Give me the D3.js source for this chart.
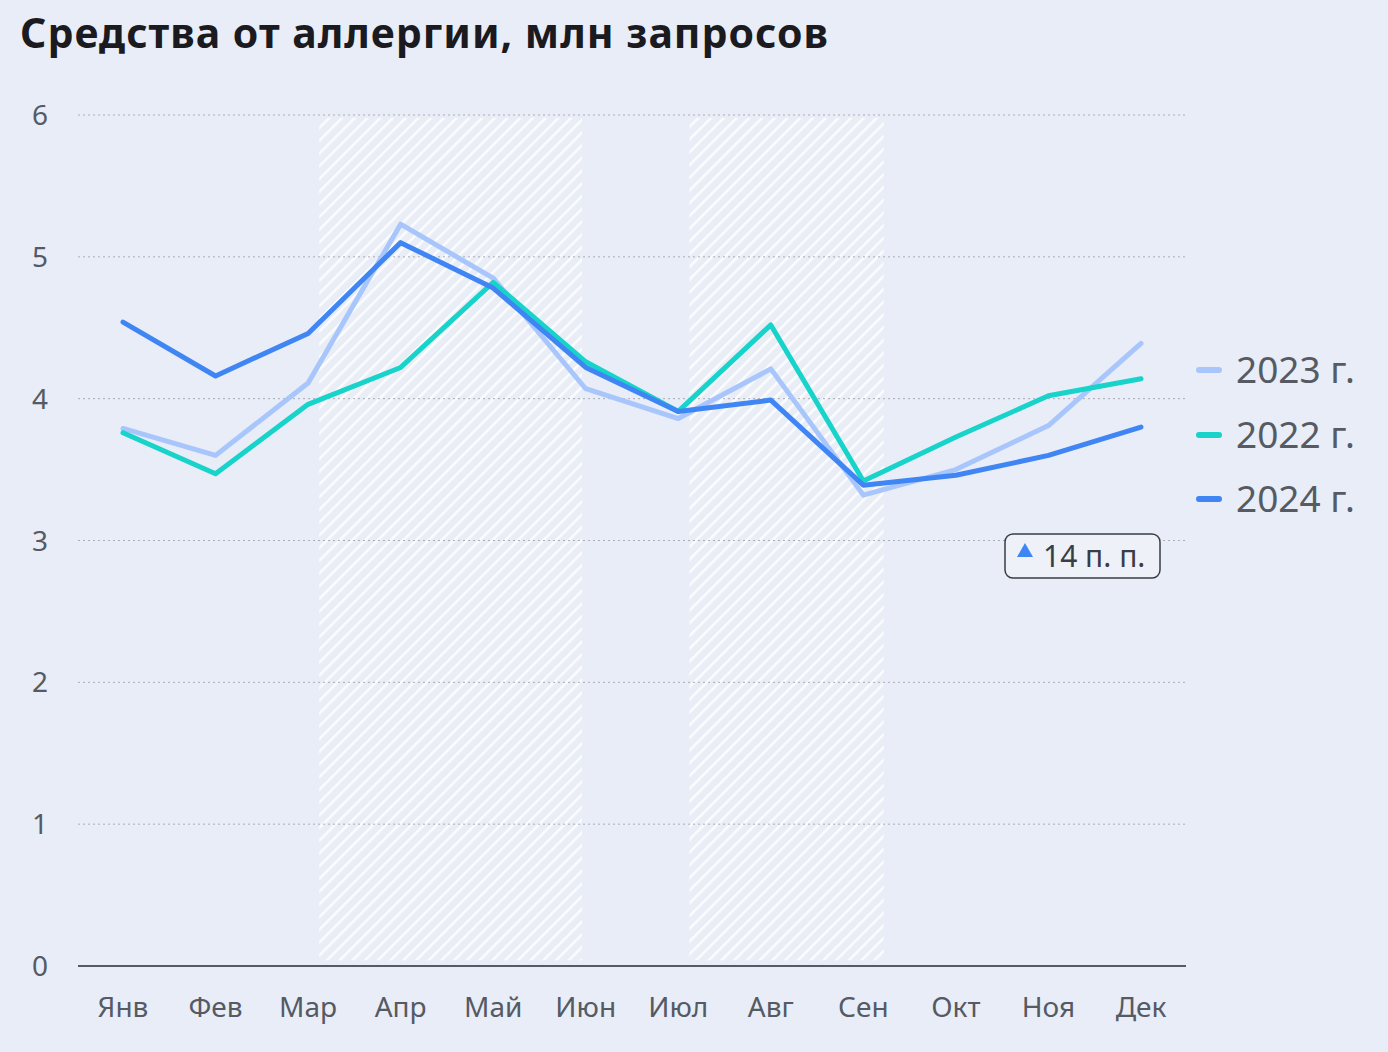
<!DOCTYPE html>
<html><head><meta charset="utf-8">
<script src="https://cdn.jsdelivr.net/npm/d3@7"></script>
<style>body{margin:0;background:#e8edf8;}svg{display:block;font-family:"Noto Sans",sans-serif;}</style>
</head><body><svg id="c" width="1388" height="1052"></svg>
<script>
const months=["Янв","Фев","Мар","Апр","Май","Июн","Июл","Авг","Сен","Окт","Ноя","Дек"];
const s2023=[3.79,3.60,4.11,5.23,4.85,4.07,3.86,4.21,3.32,3.50,3.81,4.39];
const s2022=[3.76,3.47,3.96,4.22,4.82,4.26,3.91,4.52,3.42,3.73,4.02,4.14];
const s2024=[4.54,4.16,4.46,5.10,4.78,4.22,3.91,3.99,3.39,3.46,3.60,3.80];
const yTicks=[0,1,2,3,4,5,6];
const bands=[[2.12,4.96],[6.12,8.22]];
const seriesNames=["2023 г.","2022 г.","2024 г."];
const colors=["#a8c6fb","#17d3c9","#3f86f4"];

const svg=d3.select("#c");
const x=d3.scaleLinear().domain([0,11]).range([123,1141]);
const y=d3.scaleLinear().domain([0,6]).range([966,115]);
const defs=svg.append("defs");
const pat=defs.append("pattern").attr("id","hatch").attr("patternUnits","userSpaceOnUse").attr("width",9).attr("height",9).attr("patternTransform","rotate(45)");
pat.append("rect").attr("width",9).attr("height",9).attr("fill","#e9edf5");
pat.append("line").attr("x1",0).attr("y1",0).attr("x2",0).attr("y2",9).attr("stroke","#fbfcfe").attr("stroke-width",5);

svg.append("text").attr("x",20).attr("y",48).attr("font-size",41).attr("font-weight",700).attr("letter-spacing",1).attr("fill","#1a1a1f").text("Средства от аллергии, млн запросов");

svg.selectAll(".band").data(bands).enter().append("rect")
 .attr("x",d=>x(d[0])).attr("width",d=>x(d[1])-x(d[0])).attr("y",y(5.98)).attr("height",y(0.04)-y(5.98)).attr("fill","url(#hatch)");

svg.selectAll(".grid").data(yTicks.filter(d=>d>0)).enter().append("line")
 .attr("x1",78).attr("x2",1186).attr("y1",d=>y(d)).attr("y2",d=>y(d)).attr("stroke","#a9adb6").attr("stroke-dasharray","2,3").attr("stroke-width",1);
svg.selectAll(".yl").data(yTicks).enter().append("text").attr("x",48).attr("y",d=>y(d)+10).attr("text-anchor","end")
 .attr("font-size",28).attr("fill","#555a63").text(d=>d);
svg.append("line").attr("x1",78).attr("x2",1186).attr("y1",y(0)).attr("y2",y(0)).attr("stroke","#555a63").attr("stroke-width",2);
svg.selectAll(".xl").data(months).enter().append("text").attr("x",(d,i)=>x(i)).attr("y",1017).attr("text-anchor","middle")
 .attr("font-size",28).attr("fill","#555a63").text(d=>d);

const line=d3.line().x((d,i)=>x(i)).y(d=>y(d));
[s2023,s2022,s2024].forEach((s,k)=>{
 svg.append("path").datum(s).attr("d",line).attr("fill","none").attr("stroke",colors[k]).attr("stroke-width",5).attr("stroke-linejoin","round").attr("stroke-linecap","round");
});

const ly=[370,435,499];
seriesNames.forEach((n,k)=>{
 svg.append("line").attr("x1",1199).attr("x2",1219).attr("y1",ly[k]).attr("y2",ly[k]).attr("stroke",colors[k]).attr("stroke-width",6).attr("stroke-linecap","round");
 svg.append("text").attr("x",1236).attr("y",ly[k]+13).attr("font-size",37).attr("fill","#555a63").text(n);
});

svg.append("rect").attr("x",1005).attr("y",534).attr("width",155).attr("height",44).attr("rx",8).attr("fill","#eef1f8").attr("stroke","#3a3d44").attr("stroke-width",1.5);
svg.append("path").attr("d","M1025,543 L1033,557 L1017,557 Z").attr("fill","#3f86f4");
svg.append("text").attr("x",1043).attr("y",567).attr("font-size",30).attr("fill","#3a3d44").text("14 п. п.");
</script></body></html>
